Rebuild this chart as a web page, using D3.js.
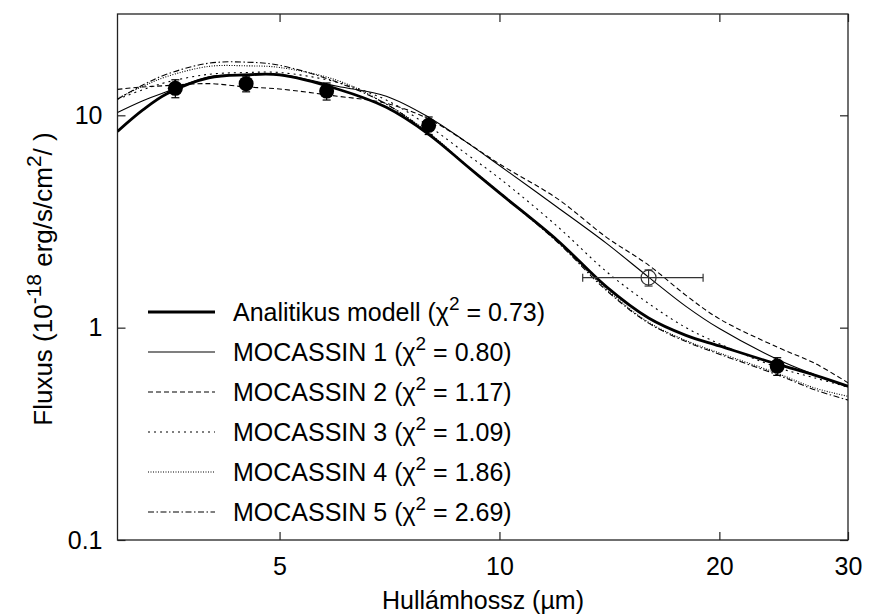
<!DOCTYPE html>
<html>
<head>
<meta charset="utf-8">
<script src="https://cdn.jsdelivr.net/npm/d3@7"></script>
<style>
body { margin: 0; background: #fff; }
text { font-family: "Liberation Sans", Arial, Helvetica, sans-serif; fill: #000; }
</style>
</head>
<body>
<div id="viz"></div>
<script>
// wavelength grid (micron) the model curves are read at
const wavelengths = [3, 3.25, 3.5, 4, 4.5, 5, 6, 7, 8, 9, 10, 12, 14, 16, 18, 20, 24, 27, 30];

const analitikus = [8.4, 10.6, 12.6, 15.0, 15.5, 15.5, 13.3, 10.9, 8.14, 5.82, 4.31, 2.58, 1.56, 1.11, 0.92, 0.82, 0.673, 0.598, 0.53];
const mocassin1  = [10.3, 11.7, 12.9, 15.2, 15.6, 15.6, 13.7, 12.3, 9.8, 7.5, 5.8, 3.69, 2.5, 1.73, 1.26, 0.99, 0.71, 0.60, 0.525];
const mocassin2  = [13.25, 13.6, 13.8, 14.1, 13.6, 13.3, 12.3, 11.4, 9.6, 7.5, 5.9, 4.05, 2.67, 1.97, 1.42, 1.10, 0.81, 0.68, 0.55];
const mocassin3  = [11.9, 13.2, 14.3, 15.6, 15.9, 15.9, 14.3, 11.8, 8.9, 6.6, 5.05, 3.0, 1.84, 1.30, 1.0, 0.84, 0.65, 0.58, 0.525];
const mocassin4  = [12.0, 13.7, 15.2, 17.0, 17.1, 16.8, 14.6, 11.3, 8.3, 5.85, 4.35, 2.55, 1.52, 1.06, 0.87, 0.76, 0.61, 0.52, 0.475];
const mocassin5  = [11.9, 13.9, 15.6, 17.6, 17.8, 17.2, 14.3, 11.3, 8.2, 5.8, 4.3, 2.53, 1.5, 1.05, 0.86, 0.75, 0.60, 0.51, 0.456];

const seriesNames = ["Analitikus modell", "MOCASSIN 1", "MOCASSIN 2", "MOCASSIN 3", "MOCASSIN 4", "MOCASSIN 5"];
const chi2 = ["0.73", "0.80", "1.17", "1.09", "1.86", "2.69"];

// photometric points (filled)
const obsWave = [3.6, 4.5, 5.8, 8.0, 24];
const obsFlux = [13.4, 14.1, 13.0, 8.97, 0.659];
const obsErr  = [1.3, 1.2, 1.2, 0.85, 0.063];

// open point, with its wavelength range
const openWave = [16];
const openFlux = [1.72];
const openErr  = [0.15];
const openLow  = [13];
const openHigh = [19];

const xTicks = [5, 10, 20, 30];
const yTicks = [0.1, 1, 10];

function draw() {
	let width = 869, height = 616;
	let left = 117.5, right = 848, top = 14, bottom = 540;

	let svg = d3.select("#viz").append("svg")
		.attr("width", width).attr("height", height);

	let x = d3.scaleLog().domain([3, 30]).range([left, right]);
	let y = d3.scaleLog().domain([0.1, 30]).range([bottom, top]);

	// axes: ticks inward on all four sides
	let fs = "25px";
	let gx = svg.append("g").attr("transform", "translate(0," + bottom + ")")
		.call(d3.axisBottom(x).tickValues(xTicks).tickFormat(d3.format("d"))
			.tickSizeInner(-8).tickSizeOuter(0).tickPadding(17));
	let gx2 = svg.append("g").attr("transform", "translate(0," + top + ")")
		.call(d3.axisTop(x).tickValues(xTicks).tickFormat("")
			.tickSizeInner(-8).tickSizeOuter(0));
	let gy = svg.append("g").attr("transform", "translate(" + left + ",0)")
		.call(d3.axisLeft(y).tickValues(yTicks).tickFormat(d => d < 1 ? "0.1" : d3.format("d")(d))
			.tickSizeInner(-8).tickSizeOuter(0).tickPadding(15));
	let gy2 = svg.append("g").attr("transform", "translate(" + right + ",0)")
		.call(d3.axisRight(y).tickValues(yTicks).tickFormat("")
			.tickSizeInner(-8).tickSizeOuter(0));

	[gx, gx2, gy, gy2].forEach(g => {
		g.select(".domain").remove();
		g.selectAll("line").attr("stroke", "#222").attr("stroke-width", 1.2);
		g.selectAll("text").style("font-size", fs).attr("fill", "#000")
			.style("font-family", "'Liberation Sans', Arial, sans-serif");
	});

	svg.append("rect")
		.attr("x", left).attr("y", top)
		.attr("width", right - left).attr("height", bottom - top)
		.attr("fill", "none").attr("stroke", "#222").attr("stroke-width", 1.3);

	// model curves
	let styles = [
		{ w: 2.8, dash: null },
		{ w: 1.1, dash: null },
		{ w: 1.1, dash: "5,3" },
		{ w: 1.1, dash: "2,4" },
		{ w: 1.1, dash: "1,1.5" },
		{ w: 1.1, dash: "6,2.5,1.5,2.5" }
	];
	let allSeries = [analitikus, mocassin1, mocassin2, mocassin3, mocassin4, mocassin5];

	let line = d3.line()
		.x((d, i) => x(wavelengths[i]))
		.y(d => y(d))
		.curve(d3.curveCatmullRom.alpha(0.5));

	svg.append("clipPath").attr("id", "plotclip")
		.append("rect").attr("x", left).attr("y", top)
		.attr("width", right - left).attr("height", bottom - top);

	let curves = svg.append("g").attr("clip-path", "url(#plotclip)");
	// draw thick one last so it sits on top
	[5, 4, 3, 2, 1, 0].forEach(k => {
		curves.append("path")
			.datum(allSeries[k])
			.attr("d", line)
			.attr("fill", "none")
			.attr("stroke", "#000")
			.attr("stroke-width", styles[k].w)
			.attr("stroke-dasharray", styles[k].dash)
			.attr("stroke-linejoin", "round");
	});

	// filled points with error bars
	let cap = 4;
	obsWave.forEach((w, i) => {
		let cx = x(w);
		svg.append("line")
			.attr("x1", cx).attr("x2", cx)
			.attr("y1", y(obsFlux[i] - obsErr[i])).attr("y2", y(obsFlux[i] + obsErr[i]))
			.attr("stroke", "#000").attr("stroke-width", 1.2);
		[obsFlux[i] - obsErr[i], obsFlux[i] + obsErr[i]].forEach(v => {
			svg.append("line")
				.attr("x1", cx - cap).attr("x2", cx + cap)
				.attr("y1", y(v)).attr("y2", y(v))
				.attr("stroke", "#000").attr("stroke-width", 1.2);
		});
		svg.append("circle")
			.attr("cx", cx).attr("cy", y(obsFlux[i]))
			.attr("r", 7.5).attr("fill", "#000");
	});

	// open point
	openWave.forEach((w, i) => {
		let cx = x(w), cy = y(openFlux[i]);
		let col = "#333";
		svg.append("line")
			.attr("x1", x(openLow[i])).attr("x2", x(openHigh[i]))
			.attr("y1", cy).attr("y2", cy)
			.attr("stroke", col).attr("stroke-width", 1.2);
		[openLow[i], openHigh[i]].forEach(v => {
			svg.append("line")
				.attr("x1", x(v)).attr("x2", x(v))
				.attr("y1", cy - cap).attr("y2", cy + cap)
				.attr("stroke", col).attr("stroke-width", 1.2);
		});
		svg.append("line")
			.attr("x1", cx).attr("x2", cx)
			.attr("y1", y(openFlux[i] - openErr[i])).attr("y2", y(openFlux[i] + openErr[i]))
			.attr("stroke", col).attr("stroke-width", 1.2);
		[openFlux[i] - openErr[i], openFlux[i] + openErr[i]].forEach(v => {
			svg.append("line")
				.attr("x1", cx - cap).attr("x2", cx + cap)
				.attr("y1", y(v)).attr("y2", y(v))
				.attr("stroke", col).attr("stroke-width", 1.2);
		});
		svg.append("circle")
			.attr("cx", cx).attr("cy", cy)
			.attr("r", 7.5).attr("fill", "none")
			.attr("stroke", col).attr("stroke-width", 1.2);
	});

	// legend
	let lg = svg.append("g");
	seriesNames.forEach((name, i) => {
		let ry = 312 + i * 40;
		lg.append("line")
			.attr("x1", 148).attr("x2", 215)
			.attr("y1", ry).attr("y2", ry)
			.attr("stroke", "#000")
			.attr("stroke-width", styles[i].w)
			.attr("stroke-dasharray", styles[i].dash);
		let t = lg.append("text")
			.attr("x", 233).attr("y", ry + 8.5)
			.style("font-size", fs);
		t.append("tspan").text(name + " (\u03c7");
		t.append("tspan").text("2").style("font-size", "19px").attr("dy", -11);
		t.append("tspan").text(" = " + chi2[i] + ")").attr("dy", 11);
	});

	// axis titles
	svg.append("text")
		.attr("x", 483).attr("y", 609)
		.attr("text-anchor", "middle")
		.style("font-size", fs)
		.text("Hullámhossz (\u00b5m)");

	let yl = svg.append("text")
		.attr("transform", "translate(52,279) rotate(-90)")
		.attr("text-anchor", "middle")
		.style("font-size", "26px");
	yl.append("tspan").text("Fluxus (10");
	yl.append("tspan").text("-18").style("font-size", "21px").attr("dy", -11);
	yl.append("tspan").text(" erg/s/cm").attr("dy", 11);
	yl.append("tspan").text("2").style("font-size", "21px").attr("dy", -11);
	yl.append("tspan").text("/\u00a0)").attr("dy", 11);
}

draw();
</script>
</body>
</html>
